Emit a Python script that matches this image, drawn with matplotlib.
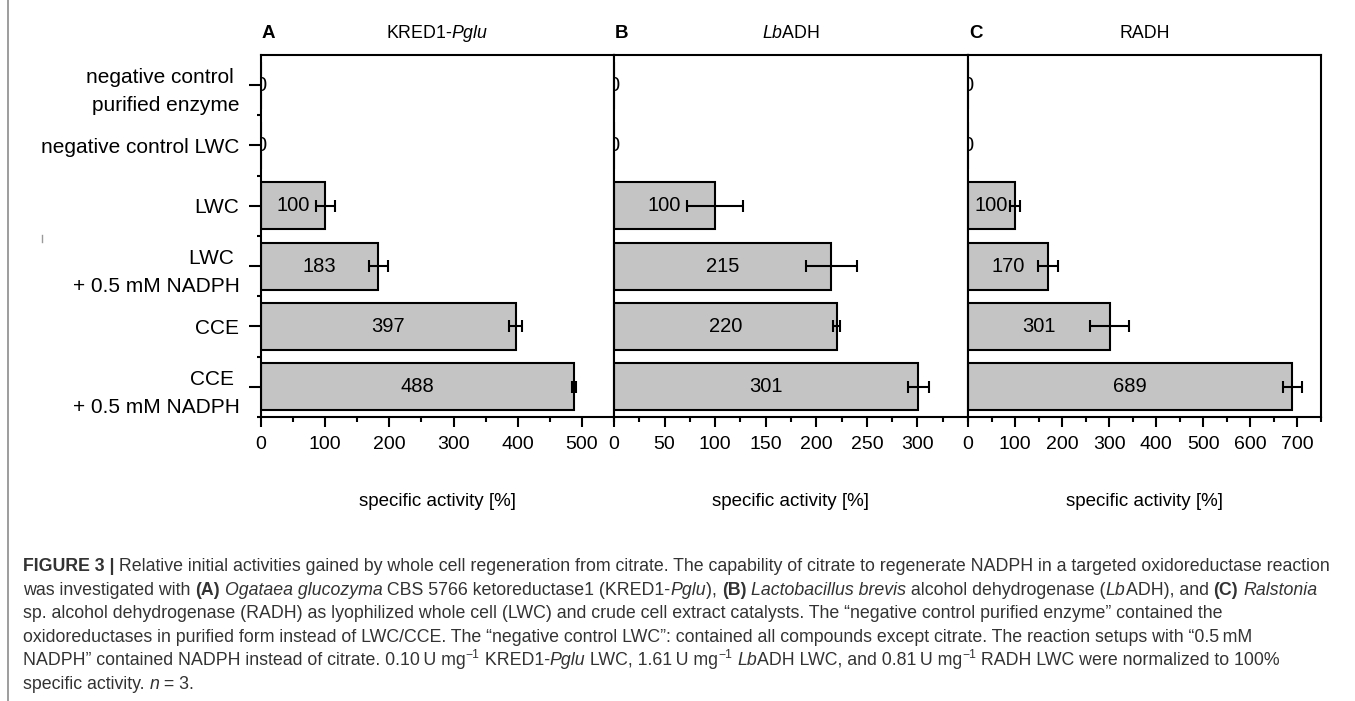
import matplotlib
matplotlib.use("Agg")
import matplotlib.pyplot as plt
from matplotlib.ticker import FixedLocator, MultipleLocator
from matplotlib.transforms import IdentityTransform
from matplotlib.lines import Line2D
from matplotlib.font_manager import FontProperties, findfont

# ---- data ----
categories = ["negative control \npurified enzyme", "negative control LWC", "LWC",
              "LWC \n+ 0.5 mM NADPH", "CCE", "CCE \n+ 0.5 mM NADPH"]

kred_values = [0, 0, 100, 183, 397, 488]
kred_errors = [0, 0, 15, 15, 10, 3]
lbadh_values = [0, 0, 100, 215, 220, 301]
lbadh_errors = [0, 0, 28, 25, 3, 10]
radh_values = [0, 0, 100, 170, 301, 689]
radh_errors = [0, 0, 10, 21, 42, 20]

panel_letters = ["A", "B", "C"]
panel_titles = [r"KRED1-$\it{Pglu}$", r"$\it{Lb}$ADH", "RADH"]
panel_xmax = [550, 350, 750]
panel_major = [100, 50, 100]
panel_ticks = [[0, 100, 200, 300, 400, 500],
               [0, 50, 100, 150, 200, 250, 300],
               [0, 100, 200, 300, 400, 500, 600, 700]]
xlabel = "specific activity [%]"

caption_lines = [
    [("FIGURE 3 |", "b"), (" Relative initial activities gained by whole cell regeneration from citrate. "
                           "The capability of citrate to regenerate NADPH in a targeted oxidoreductase reaction", "n")],
    [("was investigated with ", "n"), ("(A)", "b"), (" ", "n"), ("Ogataea glucozyma", "i"),
     (" CBS 5766 ketoreductase1 (KRED1-", "n"), ("Pglu", "i"), ("), ", "n"), ("(B)", "b"), (" ", "n"),
     ("Lactobacillus brevis", "i"), (" alcohol dehydrogenase (", "n"), ("Lb", "i"), ("ADH), and ", "n"),
     ("(C)", "b"), (" ", "n"), ("Ralstonia", "i")],
    [("sp. alcohol dehydrogenase (RADH) as lyophilized whole cell (LWC) and crude cell extract catalysts. "
      "The \u201cnegative control purified enzyme\u201d contained the", "n")],
    [("oxidoreductases in purified form instead of LWC/CCE. The \u201cnegative control LWC\u201d: contained all "
      "compounds except citrate. The reaction setups with \u201c0.5\u2009mM", "n")],
    [("NADPH\u201d contained NADPH instead of citrate. 0.10\u2009U mg", "n"), ("\u22121", "s"), (" KRED1-", "n"),
     ("Pglu", "i"), (" LWC, 1.61\u2009U mg", "n"), ("\u22121", "s"), (" ", "n"), ("Lb", "i"),
     ("ADH LWC, and 0.81\u2009U mg", "n"), ("\u22121", "s"), (" RADH LWC were normalized to 100%", "n")],
    [("specific activity. ", "n"), ("n", "i"), (" = 3.", "n")],
]

plt.rcParams["font.family"] = ["Liberation Sans", "DejaVu Sans"]
plt.rcParams["mathtext.fontset"] = "custom"
plt.rcParams["mathtext.rm"] = "Liberation Sans"
plt.rcParams["mathtext.it"] = "Liberation Sans:italic"

W, H = 1355, 701
fig = plt.figure(figsize=(W / 100, H / 100), dpi=100)
px = IdentityTransform()

edges = [261, 614, 968, 1321]
top, bottom = 55, 417
y = list(range(len(categories)))

panels = [(kred_values, kred_errors), (lbadh_values, lbadh_errors), (radh_values, radh_errors)]

for i, (vals, errs) in enumerate(panels):
    ax = fig.add_axes([edges[i] / W, 1 - bottom / H, (edges[i + 1] - edges[i]) / W, (bottom - top) / H])
    ax.barh(y, vals, height=0.78, color="#c4c4c4", edgecolor="black", linewidth=1.5, zorder=2)
    ev = [v for v in vals if v > 0]
    ee = [e for v, e in zip(vals, errs) if v > 0]
    ey = [k for k, v in zip(y, vals) if v > 0]
    ax.errorbar(ev, ey, xerr=ee, fmt="none", ecolor="black", elinewidth=1.5,
                capsize=4.5, capthick=1.5, zorder=3)
    for k, v in zip(y, vals):
        ax.text(v / 2, k, str(v), ha="center", va="center", fontsize=14.5, zorder=4, clip_on=True)

    ax.set_ylim(len(categories) - 0.5, -0.5)
    ax.set_xlim(0, panel_xmax[i])
    ax.xaxis.set_major_locator(FixedLocator(panel_ticks[i]))
    ax.xaxis.set_minor_locator(MultipleLocator(panel_major[i] / 2))
    ax.tick_params(axis="x", which="major", length=7.5, width=1.5, labelsize=14, pad=6)
    ax.tick_params(axis="x", which="minor", length=3.6, width=1.5)
    for s in ax.spines.values():
        s.set_linewidth(1.5)

    if i == 0:
        ax.set_yticks(y)
        ax.set_yticklabels(categories, fontsize=15)
        for lab in ax.get_yticklabels():
            lab.set_linespacing(1.6)
        ax.yaxis.set_minor_locator(FixedLocator([k + 0.5 for k in y]))
        ax.tick_params(axis="y", which="major", length=8.5, width=1.5, pad=7)
        ax.tick_params(axis="y", which="minor", length=3, width=1.5)
    else:
        ax.set_yticks([])

    mid = (edges[i] + edges[i + 1]) / 2
    fig.text(edges[i] + 1, H - 34, panel_letters[i], transform=px, ha="left", va="center",
             fontsize=13.5, fontweight="bold")
    fig.text(mid, H - 34, panel_titles[i], transform=px, ha="center", va="center", fontsize=12.8)
    fig.text(mid, H - 502, xlabel, transform=px, ha="center", va="center", fontsize=13.5)

# page furniture: grey frame line on the left and a small stray mark
fig.add_artist(Line2D([8, 8], [0, H], transform=px, color="#8c8c8c", linewidth=1.2))
fig.add_artist(Line2D([41.5, 41.5], [H - 242, H - 235], transform=px, color="#9a9a9a", linewidth=1))

# ---- caption ----
try:
    findfont(FontProperties(family="Liberation Sans Narrow"), fallback_to_default=False)
    cap_family = ["Liberation Sans Narrow", "DejaVu Sans"]
except Exception:
    cap_family = ["Liberation Sans", "DejaVu Sans"]

renderer = fig.canvas.get_renderer()


def style_kw(kind, size):
    kw = dict(family=cap_family, fontsize=size, color="#333333")
    if kind == "b":
        kw["fontweight"] = "bold"
    if kind == "i":
        kw["fontstyle"] = "italic"
    if kind == "s":
        kw["fontsize"] = size * 0.68
    return kw


def seg_width(text, kw):
    t1 = fig.text(0, 0, "|" + text + "|", transform=px, **kw)
    t2 = fig.text(0, 0, "||", transform=px, **kw)
    w = t1.get_window_extent(renderer).width - t2.get_window_extent(renderer).width
    t1.remove()
    t2.remove()
    return w


def line_width(segs, size):
    return sum(seg_width(t, style_kw(k, size)) for t, k in segs)


cap_x0, cap_x1 = 23, 1341
size = 10 * (cap_x1 - cap_x0) / line_width(caption_lines[0], 10)
em = size * 100 / 72
line_centers = [565, 588.5, 612, 635.5, 659, 682.5]

for segs, yc in zip(caption_lines, line_centers):
    x = cap_x0
    base = H - yc - 0.36 * em
    for t, k in segs:
        kw = style_kw(k, size)
        yy = base + (0.42 * em if k == "s" else 0)
        fig.text(x, yy, t, transform=px, ha="left", va="baseline", **kw)
        x += seg_width(t, kw)

fig.savefig("out.png", dpi=100)
